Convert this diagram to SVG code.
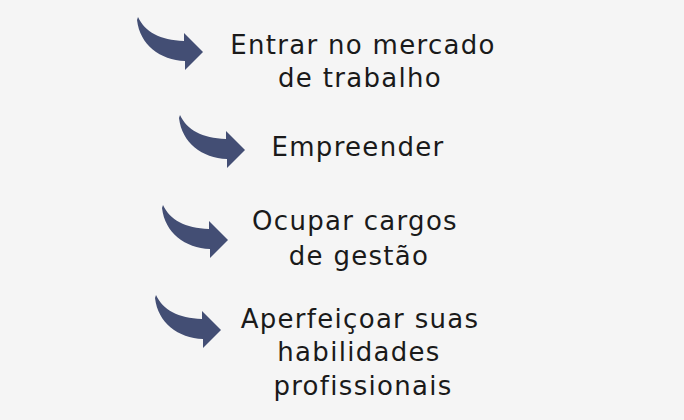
<svg xmlns="http://www.w3.org/2000/svg" width="684" height="420" viewBox="0 0 684 420">
<style>
.t{font-family:"DejaVu Sans","Noto Sans",sans-serif;font-size:26px;letter-spacing:1.3px;fill:#1a1a1a;text-anchor:middle}
.a{fill:#434e74}
</style>
<defs>
<path id="arr" class="a" d="M138,17 C145,32 160,40 184,41 L184,33 L203,52 L185,70 L185,61 C160,60 140,45 137,20 Z"/>
</defs>
<rect width="684" height="420" fill="#f5f5f5"/>
<g id="connectors">
<use href="#arr"/>
<use href="#arr" transform="translate(42,98)"/>
<use href="#arr" transform="translate(25,188)"/>
<use href="#arr" transform="translate(18,278)"/>
</g>
<g id="n1"><text class="t" x="363" y="54">Entrar no mercado</text><text class="t" x="360" y="87">de trabalho</text></g>
<g id="n2"><text class="t" x="358" y="156">Empreender</text></g>
<g id="n3"><text class="t" x="355" y="230">Ocupar cargos</text><text class="t" x="359" y="265">de gestão</text></g>
<g id="n4"><text class="t" x="360" y="328">Aperfeiçoar suas</text><text class="t" x="359" y="361">habilidades</text><text class="t" x="363" y="395">profissionais</text></g>
</svg>
